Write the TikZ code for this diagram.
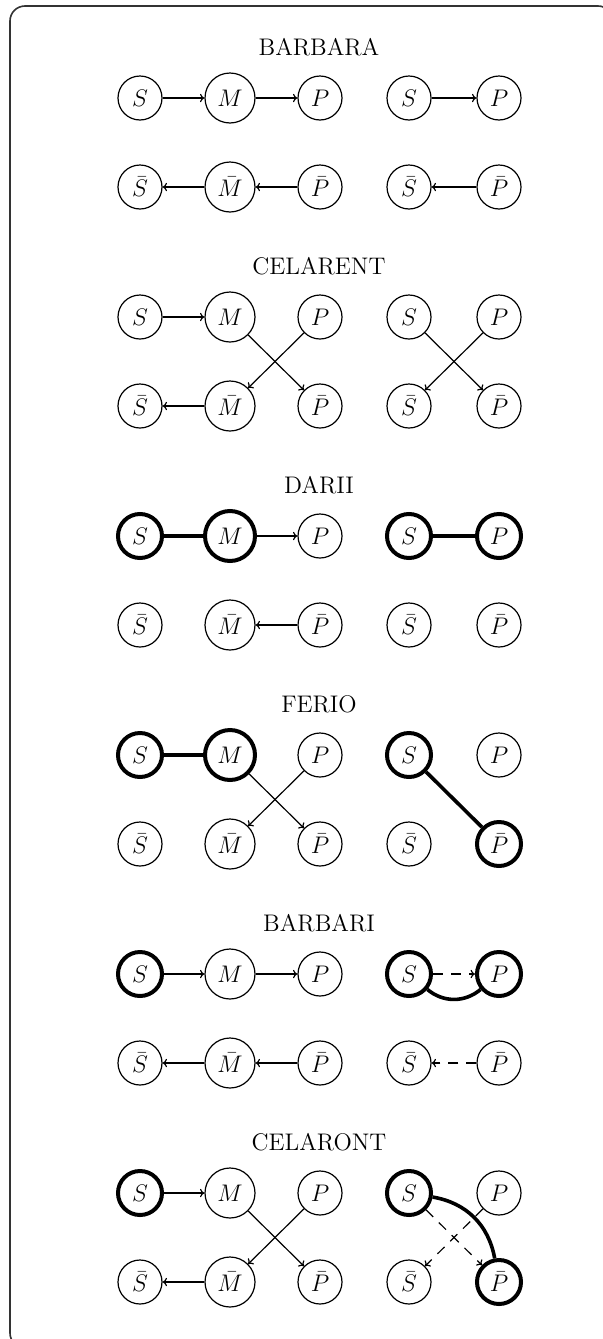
\documentclass[tikz,border=0pt]{standalone}
\usetikzlibrary{arrows.meta}
\begin{document}
\begin{tikzpicture}[x=0.5pt,y=-0.5pt,
  term/.style={circle,draw,line width=0.6pt,minimum size=22pt,inner sep=0pt,font=\fontsize{12}{14}\selectfont},
  mid/.style={term,minimum size=25pt},
  hl/.style={line width=2pt},
  title/.style={font=\fontsize{12}{14}\selectfont},
  arr/.style={line width=0.6pt,-{To[length=2.2pt,width=4.2pt]}},
  link/.style={line width=1.8pt},
  darr/.style={arr,dash pattern=on 5pt off 4pt},
  frame/.style={draw=black!80,line width=0.8pt,rounded corners=7.5pt}]
\useasboundingbox (0,0) rectangle (603,1339);
\draw[frame] (10,6) rectangle (613,1348);

% ---------- BARBARA ----------
\node[title] (t1) at (319,47) {BARBARA};
\node[term] (aS) at (140,98) {$S$};
\node[mid]  (aM) at (230,98) {$M$};
\node[term] (aP) at (320,98) {$P$};
\node[term] (arS) at (409,98) {$S$};
\node[term] (arP) at (499,98) {$P$};
\node[term] (aSb) at (140,187) {$\bar S$};
\node[mid]  (aMb) at (230,187) {$\bar M$};
\node[term] (aPb) at (320,187) {$\bar P$};
\node[term] (arSb) at (409,187) {$\bar S$};
\node[term] (arPb) at (499,187) {$\bar P$};
\draw[arr] (aS) -- (aM);
\draw[arr] (aM) -- (aP);
\draw[arr] (arS) -- (arP);
\draw[arr] (aPb) -- (aMb);
\draw[arr] (aMb) -- (aSb);
\draw[arr] (arPb) -- (arSb);

% ---------- CELARENT ----------
\node[title] (t2) at (319,266) {CELARENT};
\node[term] (bS) at (140,317) {$S$};
\node[mid]  (bM) at (230,317) {$M$};
\node[term] (bP) at (320,317) {$P$};
\node[term] (brS) at (409,317) {$S$};
\node[term] (brP) at (499,317) {$P$};
\node[term] (bSb) at (140,406) {$\bar S$};
\node[mid]  (bMb) at (230,406) {$\bar M$};
\node[term] (bPb) at (320,406) {$\bar P$};
\node[term] (brSb) at (409,406) {$\bar S$};
\node[term] (brPb) at (499,406) {$\bar P$};
\draw[arr] (bS) -- (bM);
\draw[arr] (bM) -- (bPb);
\draw[arr] (bP) -- (bMb);
\draw[arr] (bMb) -- (bSb);
\draw[arr] (brS) -- (brPb);
\draw[arr] (brP) -- (brSb);

% ---------- DARII ----------
\node[title] (t3) at (319,485) {DARII};
\node[term,hl] (cS) at (140,536) {$S$};
\node[mid,hl]  (cM) at (230,536) {$M$};
\node[term] (cP) at (320,536) {$P$};
\node[term,hl] (crS) at (409,536) {$S$};
\node[term,hl] (crP) at (499,536) {$P$};
\node[term] (cSb) at (140,625) {$\bar S$};
\node[mid]  (cMb) at (230,625) {$\bar M$};
\node[term] (cPb) at (320,625) {$\bar P$};
\node[term] (crSb) at (409,625) {$\bar S$};
\node[term] (crPb) at (499,625) {$\bar P$};
\draw[link] (cS) -- (cM);
\draw[arr] (cM) -- (cP);
\draw[link] (crS) -- (crP);
\draw[arr] (cPb) -- (cMb);

% ---------- FERIO ----------
\node[title] (t4) at (319,704) {FERIO};
\node[term,hl] (dS) at (140,755) {$S$};
\node[mid,hl]  (dM) at (230,755) {$M$};
\node[term] (dP) at (320,755) {$P$};
\node[term,hl] (drS) at (409,755) {$S$};
\node[term] (drP) at (499,755) {$P$};
\node[term] (dSb) at (140,844) {$\bar S$};
\node[mid]  (dMb) at (230,844) {$\bar M$};
\node[term] (dPb) at (320,844) {$\bar P$};
\node[term] (drSb) at (409,844) {$\bar S$};
\node[term,hl] (drPb) at (499,844) {$\bar P$};
\draw[link] (dS) -- (dM);
\draw[arr] (dM) -- (dPb);
\draw[arr] (dP) -- (dMb);
\draw[link] (drS) -- (drPb);

% ---------- BARBARI ----------
\node[title] (t5) at (319,923) {BARBARI};
\node[term,hl] (eS) at (140,974) {$S$};
\node[mid]  (eM) at (230,974) {$M$};
\node[term] (eP) at (320,974) {$P$};
\node[term,hl] (erS) at (409,974) {$S$};
\node[term,hl] (erP) at (499,974) {$P$};
\node[term] (eSb) at (140,1063) {$\bar S$};
\node[mid]  (eMb) at (230,1063) {$\bar M$};
\node[term] (ePb) at (320,1063) {$\bar P$};
\node[term] (erSb) at (409,1063) {$\bar S$};
\node[term] (erPb) at (499,1063) {$\bar P$};
\draw[arr] (eS) -- (eM);
\draw[arr] (eM) -- (eP);
\draw[darr] (erS) -- (erP);
\draw[link] (erS) to[bend right=40] (erP);
\draw[arr] (ePb) -- (eMb);
\draw[arr] (eMb) -- (eSb);
\draw[darr] (erPb) -- (erSb);

% ---------- CELARONT ----------
\node[title] (t6) at (319,1142) {CELARONT};
\node[term,hl] (fS) at (140,1193) {$S$};
\node[mid]  (fM) at (230,1193) {$M$};
\node[term] (fP) at (320,1193) {$P$};
\node[term,hl] (frS) at (409,1193) {$S$};
\node[term] (frP) at (499,1193) {$P$};
\node[term] (fSb) at (140,1282) {$\bar S$};
\node[mid]  (fMb) at (230,1282) {$\bar M$};
\node[term] (fPb) at (320,1282) {$\bar P$};
\node[term] (frSb) at (409,1282) {$\bar S$};
\node[term,hl] (frPb) at (499,1282) {$\bar P$};
\draw[arr] (fS) -- (fM);
\draw[arr] (fM) -- (fPb);
\draw[arr] (fP) -- (fMb);
\draw[arr] (fMb) -- (fSb);
\draw[link] (frS) to[bend left=35] (frPb);
\draw[darr] (frS) -- (frPb);
\draw[darr] (frP) -- (frSb);
\end{tikzpicture}
\end{document}
